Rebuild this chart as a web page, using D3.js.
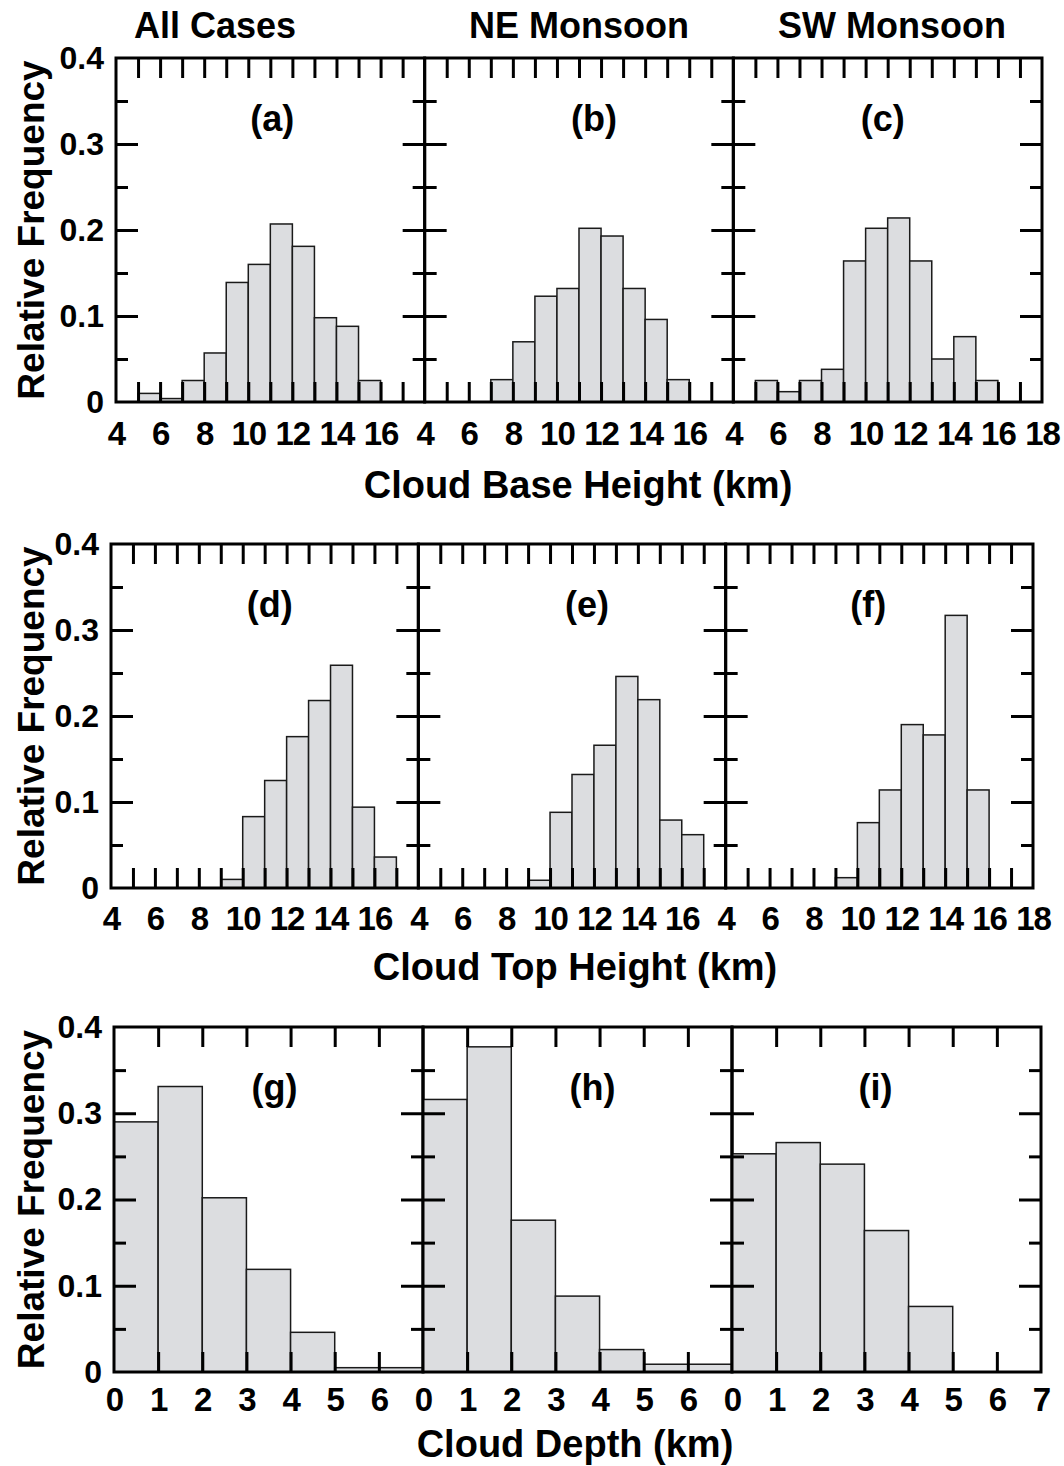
<!DOCTYPE html>
<html><head><meta charset="utf-8">
<script src="https://cdn.jsdelivr.net/npm/d3@7"></script>
<style>
body{margin:0;background:#fff}
text{font-family:Arial,"Liberation Sans",Helvetica,sans-serif;font-weight:bold;fill:#000}
</style>
</head><body>
<svg id="chart" width="1064" height="1466"></svg>
<script>
// ---------------- data ----------------
const columnTitles = ["All Cases", "NE Monsoon", "SW Monsoon"];
const panelLabels = [["(a)", "(b)", "(c)"], ["(d)", "(e)", "(f)"], ["(g)", "(h)", "(i)"]];
const xTitles = ["Cloud Base Height (km)", "Cloud Top Height (km)", "Cloud Depth (km)"];
const yTitle = "Relative Frequency";
const yTickLabels = [0, 0.1, 0.2, 0.3, 0.4];

// bin starts (bin width 1 km)
const baseBins = [5, 6, 7, 8, 9, 10, 11, 12, 13, 14, 15, 16];
const baseAll = [0.010, 0.004, 0.025, 0.057, 0.139, 0.160, 0.207, 0.181, 0.098, 0.088, 0.025, 0];
const baseNE  = [0, 0, 0.026, 0.070, 0.123, 0.132, 0.202, 0.193, 0.132, 0.096, 0.026, 0];
const baseSW  = [0.025, 0.012, 0.025, 0.038, 0.164, 0.202, 0.214, 0.164, 0.050, 0.076, 0.025, 0];

const topBins = [9, 10, 11, 12, 13, 14, 15, 16];
const topAll = [0.010, 0.083, 0.125, 0.176, 0.218, 0.259, 0.094, 0.036];
const topNE  = [0.009, 0.088, 0.132, 0.166, 0.246, 0.219, 0.079, 0.062];
const topSW  = [0.012, 0.076, 0.114, 0.190, 0.178, 0.317, 0.114, 0];

const depthBins = [0, 1, 2, 3, 4, 5, 6];
const depthAll = [0.290, 0.331, 0.202, 0.119, 0.046, 0.005, 0.005];
const depthNE  = [0.316, 0.377, 0.176, 0.088, 0.026, 0.009, 0.009];
const depthSW  = [0.253, 0.266, 0.241, 0.164, 0.076, 0, 0];

const heightTickLabels = [[4, 6, 8, 10, 12, 14, 16], [4, 6, 8, 10, 12, 14, 16], [4, 6, 8, 10, 12, 14, 16, 18]];
const depthTickLabels = [[0, 1, 2, 3, 4, 5, 6], [0, 1, 2, 3, 4, 5, 6], [0, 1, 2, 3, 4, 5, 6, 7]];

const rowsData = [
  {bins: baseBins, series: [baseAll, baseNE, baseSW], domain: [4, 18], labels: heightTickLabels},
  {bins: topBins, series: [topAll, topNE, topSW], domain: [4, 18], labels: heightTickLabels},
  {bins: depthBins, series: [depthAll, depthNE, depthSW], domain: [0, 7], labels: depthTickLabels}
];

// ---------------- layout ----------------
const rowBoxes = [
  {top: 58, bottom: 402, left: 116, right: 1042, pad: 20, xtY: 498, labelDx: [2, 15, -5]},
  {top: 544, bottom: 888, left: 111, right: 1033, pad: 19, xtY: 980, labelDx: [5, 15, -11]},
  {top: 1027, bottom: 1372, left: 114, right: 1041, pad: 16, xtY: 1457, labelDx: [6, 15, -11]}
];
const xTitleX = [578, 575, 575];
const colTitleX = [215, 579, 892];

const svg = d3.select("#chart");
const FILL = "#dcdde0";

function styleAxis(g) {
  g.select(".domain").remove();
  g.selectAll(".tick line").attr("stroke", "#000").attr("stroke-width", 3);
}

// column titles
svg.selectAll("text.coltitle").data(columnTitles).join("text")
  .attr("class", "coltitle")
  .attr("x", (d, i) => colTitleX[i]).attr("y", 38)
  .attr("text-anchor", "middle").style("font-size", "36px").text(d => d);

rowsData.forEach((row, r) => {
  const box = rowBoxes[r];
  const pw = (box.right - box.left) / 3;
  const y = d3.scaleLinear().domain([0, 0.4]).range([box.bottom, box.top]);

  // y title
  svg.append("text")
    .attr("transform", `translate(44,${(box.top + box.bottom) / 2}) rotate(-90)`)
    .attr("text-anchor", "middle").style("font-size", "37px").text(yTitle);

  // x title
  svg.append("text").attr("x", xTitleX[r]).attr("y", box.xtY)
    .attr("text-anchor", "middle").style("font-size", "38px").text(xTitles[r]);

  row.series.forEach((vals, c) => {
    const x0 = box.left + c * pw;
    const x = d3.scaleLinear().domain(row.domain).range([x0, x0 + pw]);
    const g = svg.append("g");
    const data = row.bins.map((b, i) => ({b, v: vals[i]})).filter(d => d.v > 0);

    // bars
    g.selectAll("rect.bar").data(data).join("rect")
      .attr("class", "bar")
      .attr("x", d => x(d.b)).attr("width", d => x(d.b + 1) - x(d.b))
      .attr("y", d => y(d.v)).attr("height", d => y(0) - y(d.v))
      .attr("fill", FILL).attr("stroke", "#1a1a1a").attr("stroke-width", 1.5);

    const inner = d3.range(row.domain[0] + 1, row.domain[1]);

    // bottom ticks (inward)
    g.append("g").attr("transform", `translate(0,${box.bottom})`)
      .call(d3.axisBottom(x).tickValues(inner).tickSize(-20).tickFormat(""))
      .call(styleAxis);
    // top ticks (inward)
    g.append("g").attr("transform", `translate(0,${box.top})`)
      .call(d3.axisTop(x).tickValues(inner).tickSize(-20).tickFormat(""))
      .call(styleAxis);
    // left ticks
    g.append("g").attr("transform", `translate(${x0},0)`)
      .call(d3.axisLeft(y).tickValues([0.1, 0.2, 0.3]).tickSize(-22).tickFormat(""))
      .call(styleAxis);
    g.append("g").attr("transform", `translate(${x0},0)`)
      .call(d3.axisLeft(y).tickValues([0.05, 0.15, 0.25, 0.35]).tickSize(-12).tickFormat(""))
      .call(styleAxis);
    // right ticks
    g.append("g").attr("transform", `translate(${x0 + pw},0)`)
      .call(d3.axisRight(y).tickValues([0.1, 0.2, 0.3]).tickSize(-22).tickFormat(""))
      .call(styleAxis);
    g.append("g").attr("transform", `translate(${x0 + pw},0)`)
      .call(d3.axisRight(y).tickValues([0.05, 0.15, 0.25, 0.35]).tickSize(-12).tickFormat(""))
      .call(styleAxis);

    // frame
    g.append("rect").attr("x", x0).attr("y", box.top).attr("width", pw).attr("height", box.bottom - box.top)
      .attr("fill", "none").attr("stroke", "#000").attr("stroke-width", 3);

    // x tick labels
    const xl = g.append("g").attr("transform", `translate(0,${box.bottom})`)
      .call(d3.axisBottom(x).tickValues(row.labels[c]).tickSize(0).tickPadding(box.pad).tickFormat(d3.format("d")));
    xl.select(".domain").remove();
    xl.selectAll(".tick text").attr("font-family", null).attr("font-size", null)
      .style("font-size", "33px").style("letter-spacing", "-1px");

    // y tick labels on first panel
    if (c === 0) {
      const yl = g.append("g").attr("transform", `translate(${x0},0)`)
        .call(d3.axisLeft(y).tickValues(yTickLabels).tickSize(0).tickPadding(12).tickFormat(d => d === 0 ? "0" : d3.format(".1f")(d)));
      yl.select(".domain").remove();
      yl.selectAll(".tick text").attr("font-family", null).attr("font-size", null).style("font-size", "32px");
    }

    // panel label
    g.append("text").attr("x", x0 + pw / 2 + box.labelDx[c]).attr("y", box.top + 73)
      .attr("text-anchor", "middle").style("font-size", "36px").text(panelLabels[r][c]);
  });
});
</script>
</body></html>
